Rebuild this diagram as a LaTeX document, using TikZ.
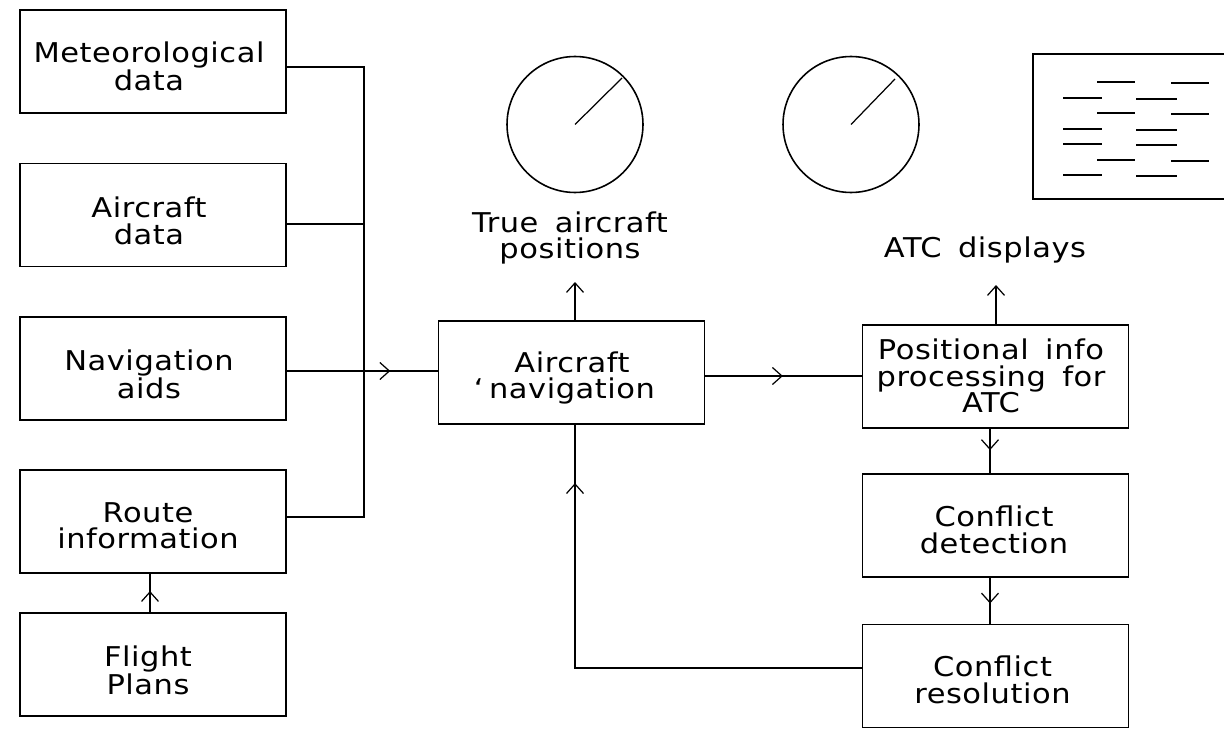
\documentclass[tikz,border=0pt]{standalone}
\usepackage{fontspec}
\setmainfont{DejaVu Sans}[FakeStretch=1.12,LetterSpace=2,WordSpace=1.6]
\usetikzlibrary{positioning,calc,arrows.meta}
\usetikzlibrary{decorations.markings}
\tikzset{
	blockbox/.style={draw,line width=0.9pt,minimum width=5.32cm,minimum height=2.06cm,inner sep=0pt},
	caption/.style={align=center,font=\fontsize{15.5}{15}\selectfont,inner sep=0pt},
	radar/.style={draw,circle,line width=0.9pt,minimum size=2.72cm,inner sep=0pt},
	flowline/.style={line width=0.7pt},
	opentip/.tip={Straight Barb[length=1.9mm,width=3.4mm,line width=0.7pt]},
	midtip/.style={flowline,postaction={decorate},decoration={markings,mark=at position #1 with {\arrow{opentip}}}}
}

\begin{document}
\begin{tikzpicture}[x=0.02cm,y=-0.02cm]
			\useasboundingbox (0,0) rectangle (1224,730);
			% input blocks
			\node[blockbox] (metdata) at (153,61.5) {};
			\node[blockbox] (acdata) at (153,215) {};
			\node[blockbox] (navaids) at (153,368.5) {};
			\node[blockbox] (route) at (153,521.5) {};
			\node[blockbox] (plans) at (153,664.5) {};
			\node[caption] (mettext) at (149,66) {Meteorological\\data};
			\node[caption] (actext) at (149,221) {Aircraft\\data};
			\node[caption] (navtext) at (149,374) {Navigation\\aids};
			\node[caption] (routetext) at (148,526) {Route\\information};
			\node[caption] (planstext) at (148,670) {Flight\\Plans};
			% processing blocks
			\node[blockbox] (acnav) at (571.5,372.5) {};
			\node[blockbox] (posinfo) at (995.5,376.5) {};
			\node[blockbox] (detect) at (995.5,525.5) {};
			\node[blockbox] (resolve) at (995.5,676) {};
			\node[caption] (acnavtext) at (572,378) {Aircraft\\\llap{‘\hspace{0.2em}}navigation};
			\node[caption] (postext) at (991,376) {Positional info\\processing for\\ATC};
			\node[caption] (detecttext) at (994,530) {Conflict\\detection};
			\node[caption] (resolvetext) at (992.5,680) {Conflict\\resolution};
			% displays
			\node[radar] (trueradar) at (575,124.5) {};
			\node[radar] (atcradar) at (851,124.5) {};
			\coordinate (truehand) at (622,78);
			\coordinate (atchand) at (895,79);
			\draw[flowline] (trueradar.center)--(truehand);
			\draw[flowline] (atcradar.center)--(atchand);
			\node[caption] (truelabel) at (570,238) {True aircraft\\positions};
			\node[caption] (atclabel) at (985,250) {ATC displays};
			\coordinate (sheettop) at (1224,54);
			\coordinate (sheetbot) at (1224,199);
			\draw[line width=0.9pt] (sheettop)--(1033,54)--(1033,199)--(sheetbot);
			\begin{scope}[line width=0.8pt]
			\foreach \y in {82,113,160}
			\draw (1097,\y)--(1135,\y) (1171,\y+1)--(1209,\y+1);
			\foreach \y in {98,129,144,175}
			\draw (1063,\y)--(1102,\y) (1136,\y+1)--(1177,\y+1);
			\end{scope}
			% bus on the left
			\coordinate (bustop) at (364,67);
			\coordinate (busbot) at (364,517);
			\coordinate (busac) at (364,224);
			\draw[flowline] (metdata.east |- bustop)--(bustop)--(busbot)--(route.east |- busbot);
			\draw[flowline] (acdata.east |- busac)--(busac);
			\coordinate (navin) at (439,371);
			\draw[midtip=0.68] (navaids.east |- navin)--(navin);
			\coordinate (plantop) at (150,613);
			\draw[midtip=0.56] (plantop)--(route.south -| plantop);
			% main flow
			\coordinate (acout) at (704,376);
			\draw[midtip=0.5] (acout)--(posinfo.west |- acout);
			\coordinate (trueup) at (575,282);
			\draw[flowline,-opentip] (acnav.north -| trueup)--(trueup);
			\coordinate (atcup) at (996,285);
			\draw[flowline,-opentip] (posinfo.north -| atcup)--(atcup);
			\coordinate (stem) at (990,450);
			\draw[midtip=0.48] (posinfo.south -| stem)--(detect.north -| stem);
			\draw[midtip=0.56] (detect.south -| stem)--(resolve.north -| stem);
			\coordinate (backcorner) at (575,668);
			\draw[midtip=0.89] (resolve.west |- backcorner)--(backcorner)--(acnav.south -| backcorner);
\end{tikzpicture}
\end{document}
